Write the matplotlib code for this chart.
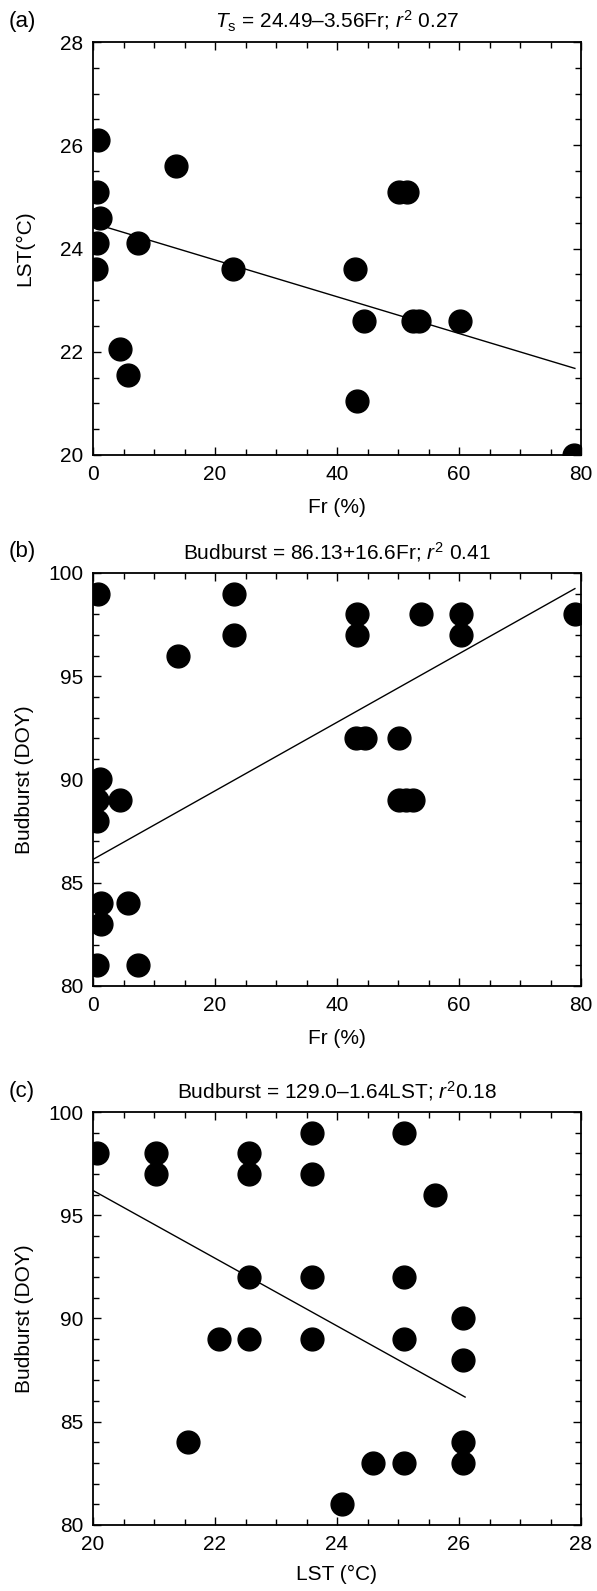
import numpy as np
import matplotlib
matplotlib.use("Agg")
import matplotlib.pyplot as plt
from matplotlib.ticker import MultipleLocator

plt.rcParams['font.family'] = ['Liberation Sans', 'DejaVu Sans']
plt.rcParams['mathtext.fontset'] = 'custom'
plt.rcParams['mathtext.rm'] = 'Liberation Sans'
plt.rcParams['mathtext.it'] = 'Liberation Sans:italic'

# (a) Fr vs LST
fr_a = [0.8, 0.6, 1.2, 0.6, 0.5, 13.6, 7.3, 22.9, 42.9, 50.2, 51.4, 44.4,
        52.5, 53.4, 60.2, 4.4, 5.8, 43.25, 78.9]
lst_a = [26.1, 25.1, 24.6, 24.1, 23.6, 25.6, 24.1, 23.6, 23.6, 25.1, 25.1, 22.6,
         22.6, 22.6, 22.6, 22.06, 21.55, 21.04, 20.0]

# (b) Fr vs budburst
fr_b = [0.8, 23.1, 23.1, 13.9, 43.25, 43.25, 53.75, 60.3, 60.3, 79.0, 43.1, 44.6,
        50.1, 50.1, 51.3, 52.5, 1.1, 0.6, 0.6, 4.4, 1.25, 5.8, 1.25, 0.6, 7.3]
bud_b = [99, 99, 97, 96, 98, 97, 98, 98, 97, 98, 92, 92,
         92, 89, 89, 89, 90, 89, 88, 89, 84, 84, 83, 81, 81]

# (c) LST vs budburst
lst_c = [20.06, 21.03, 21.03, 22.56, 22.56, 23.59, 23.59, 25.1, 25.6, 22.56, 23.59, 25.1,
         22.06, 22.56, 23.59, 25.1, 26.07, 26.07, 21.55, 26.07, 24.59, 25.1, 26.07, 24.09]
bud_c = [98, 98, 97, 98, 97, 99, 97, 99, 96, 92, 92, 92,
         89, 89, 89, 89, 90, 88, 84, 84, 83, 83, 83, 81]

# regression lines (coefficients from the titles)
fit_a = (24.49, -3.56)
fit_b = (86.13, 16.6)
fit_c = (129.0, -1.64)

fig = plt.figure(figsize=(5.97, 15.91), dpi=100)

left, width, height = 93 / 597, 488 / 597, 413 / 1591
ax_a = fig.add_axes([left, 1 - 455 / 1591, width, height])
ax_b = fig.add_axes([left, 1 - 986 / 1591, width, height])
ax_c = fig.add_axes([left, 1 - 1525 / 1591, width, height])

fs = 15


def style(ax, xlim, ylim, xmaj, xmin, ymaj, ymin):
    ax.set_xlim(*xlim)
    ax.set_ylim(*ylim)
    ax.xaxis.set_major_locator(MultipleLocator(xmaj))
    ax.xaxis.set_minor_locator(MultipleLocator(xmin))
    ax.yaxis.set_major_locator(MultipleLocator(ymaj))
    ax.yaxis.set_minor_locator(MultipleLocator(ymin))
    ax.tick_params(which='both', direction='in', top=True, right=True,
                   labelsize=fs, width=1.0, pad=7)
    ax.tick_params(which='major', length=6)
    ax.tick_params(which='minor', length=4)
    for s in ax.spines.values():
        s.set_linewidth(1.3)
    ax.yaxis.set_label_coords(-0.12, 0.5)


def titles(ax, letter, title):
    ax.text(0.5, 1 + 21 / 413, title, transform=ax.transAxes,
            ha='center', va='center', fontsize=fs)
    ax.text(-71 / 488, 1 + 21 / 413, letter, transform=ax.transAxes,
            ha='center', va='center', fontsize=16)


# (a)
ax_a.scatter(fr_a, lst_a, s=270, color='black', zorder=3)
xx = np.array([1.0, 79.0])
ax_a.plot(xx, fit_a[0] + fit_a[1] * xx / 100, color='black', lw=1.0)
style(ax_a, (0, 80), (20, 28), 20, 5, 2, 0.5)
ax_a.set_xlabel('Fr (%)', fontsize=fs, labelpad=10)
ax_a.set_ylabel('LST(°C)', fontsize=fs)
titles(ax_a, '(a)', r'$T_\mathrm{s}$ = 24.49–3.56Fr; $r^2$ 0.27')

# (b)
ax_b.scatter(fr_b, bud_b, s=270, color='black', zorder=3)
xx = np.array([0.0, 79.0])
ax_b.plot(xx, fit_b[0] + fit_b[1] * xx / 100, color='black', lw=1.0)
style(ax_b, (0, 80), (80, 100), 20, 5, 5, 1)
ax_b.set_xlabel('Fr (%)', fontsize=fs, labelpad=10)
ax_b.set_ylabel('Budburst (DOY)', fontsize=fs)
titles(ax_b, '(b)', r'Budburst = 86.13+16.6Fr; $r^2$ 0.41')

# (c)
ax_c.scatter(lst_c, bud_c, s=270, color='black', zorder=3)
xx = np.array([20.0, 26.1])
ax_c.plot(xx, fit_c[0] + fit_c[1] * xx, color='black', lw=1.0)
style(ax_c, (20, 28), (80, 100), 2, 0.5, 5, 1)
ax_c.set_xlabel('LST (°C)', fontsize=fs, labelpad=8)
ax_c.set_ylabel('Budburst (DOY)', fontsize=fs)
titles(ax_c, '(c)', r'Budburst = 129.0–1.64LST; $r^2$0.18')

fig.savefig('out.png', dpi=100)
